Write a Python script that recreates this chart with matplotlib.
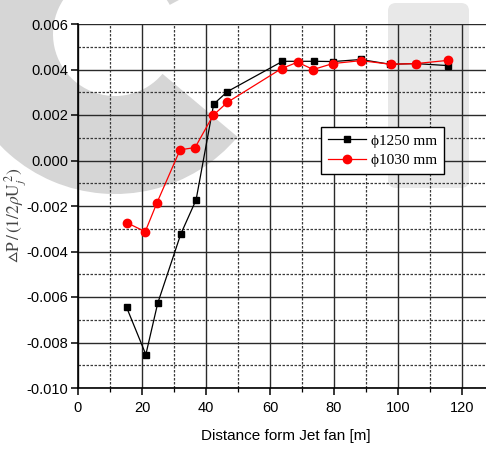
import numpy as np
import matplotlib
matplotlib.use("Agg")
import matplotlib.pyplot as plt
from matplotlib.patches import Wedge, FancyBboxPatch
from matplotlib.ticker import MultipleLocator, FormatStrFormatter

plt.rcParams['font.family'] = ['Liberation Sans', 'DejaVu Sans']
plt.rcParams['axes.unicode_minus'] = False
plt.rcParams['mathtext.fontset'] = 'stix'

# pressure coefficient along the tunnel, two jet fan diameters
dist_1250 = [15.2, 21.2, 24.9, 32.1, 36.9, 42.4, 46.7, 63.9, 73.9, 79.8, 88.4, 97.5, 105.6, 115.7]
dp_1250 = [-0.00646, -0.00853, -0.00628, -0.00324, -0.00173, 0.00248, 0.00303,
           0.00436, 0.00436, 0.00435, 0.00444, 0.00423, 0.00426, 0.00417]

dist_1030 = [15.2, 21.0, 24.7, 31.9, 36.6, 42.2, 46.7, 63.6, 68.6, 73.5, 79.6, 88.4, 97.7, 105.6, 115.5]
dp_1030 = [-0.00273, -0.00313, -0.00185, 0.00047, 0.00057, 0.00198, 0.00256,
           0.00404, 0.00432, 0.00400, 0.00426, 0.00439, 0.00423, 0.00426, 0.00440]

labels = ['\u03d51250 mm', '\u03d51030 mm']

W, H = 486, 449
fig = plt.figure(figsize=(W / 100, H / 100), dpi=100)

# faint logo shapes behind the chart, in pixel units
bg = fig.add_axes([0, 0, 1, 1], zorder=0)
bg.set_xlim(0, W)
bg.set_ylim(H, 0)
bg.axis('off')
bg.add_patch(Wedge((115, 34), 160, 40, 332, width=98, facecolor='#d6d6d6', edgecolor='none'))
bg.add_patch(FancyBboxPatch((392, 7), 73, 177, boxstyle='round,pad=4,rounding_size=8',
                            facecolor='#e8e8e8', edgecolor='none'))

ax = fig.add_axes([78 / W, 61 / H, (W - 78) / W, 364 / H], zorder=1)
ax.set_facecolor('none')

ax.plot(dist_1250, dp_1250, color='black', lw=0.9, marker='s', ms=5,
        markerfacecolor='black', markeredgecolor='black', label=labels[0], zorder=3)
ax.plot(dist_1030, dp_1030, color='red', lw=0.9, marker='o', ms=6,
        markerfacecolor='red', markeredgecolor='red', label=labels[1], zorder=4)

ax.set_xlim(0, 127.5)
ax.set_ylim(-0.010, 0.006)
ax.xaxis.set_major_locator(MultipleLocator(20))
ax.xaxis.set_minor_locator(MultipleLocator(10))
ax.yaxis.set_major_locator(MultipleLocator(0.002))
ax.yaxis.set_minor_locator(MultipleLocator(0.001))
ax.yaxis.set_major_formatter(FormatStrFormatter('%.3f'))

ax.grid(which='major', color='#2a2a2a', lw=1.0, ls='-', zorder=1)
ax.grid(which='minor', color='#3a3a3a', lw=0.9, ls=(0, (2, 1.2)), zorder=1)
ax.set_axisbelow(True)

for side in ['top', 'right']:
    ax.spines[side].set_visible(False)
for side in ['left', 'bottom']:
    ax.spines[side].set_linewidth(1.2)

ax.tick_params(which='major', direction='out', length=5, width=1.1, labelsize=10.5, pad=2)
ax.tick_params(axis='x', which='minor', direction='out', length=3, width=0.9)
ax.tick_params(axis='y', which='minor', length=0)
ax.tick_params(axis='x', pad=4)

ax.set_xlabel('Distance form Jet fan [m]', fontsize=11)
ax.xaxis.set_label_coords(0.51, -0.132)
ax.xaxis.label.set_va('center')
ax.set_ylabel(r'$\vartriangle\mathrm{P}\,/\,(1/2\rho\mathrm{U}_j^{\,2})$', fontsize=12.5, color='#444444')
ax.yaxis.set_label_coords(-0.152, 0.473)
ax.yaxis.label.set_va('center')

leg = ax.legend(loc='upper left', bbox_to_anchor=(0.596, 0.717), frameon=True, fancybox=False,
                edgecolor='black', framealpha=1, borderpad=0.45, handlelength=2.5,
                handletextpad=0.33, labelspacing=0.37, borderaxespad=0,
                prop={'family': ['Liberation Serif', 'DejaVu Serif'], 'size': 11})
leg.get_frame().set_linewidth(1.0)
leg.set_zorder(5)

fig.savefig('out.png', dpi=100)
